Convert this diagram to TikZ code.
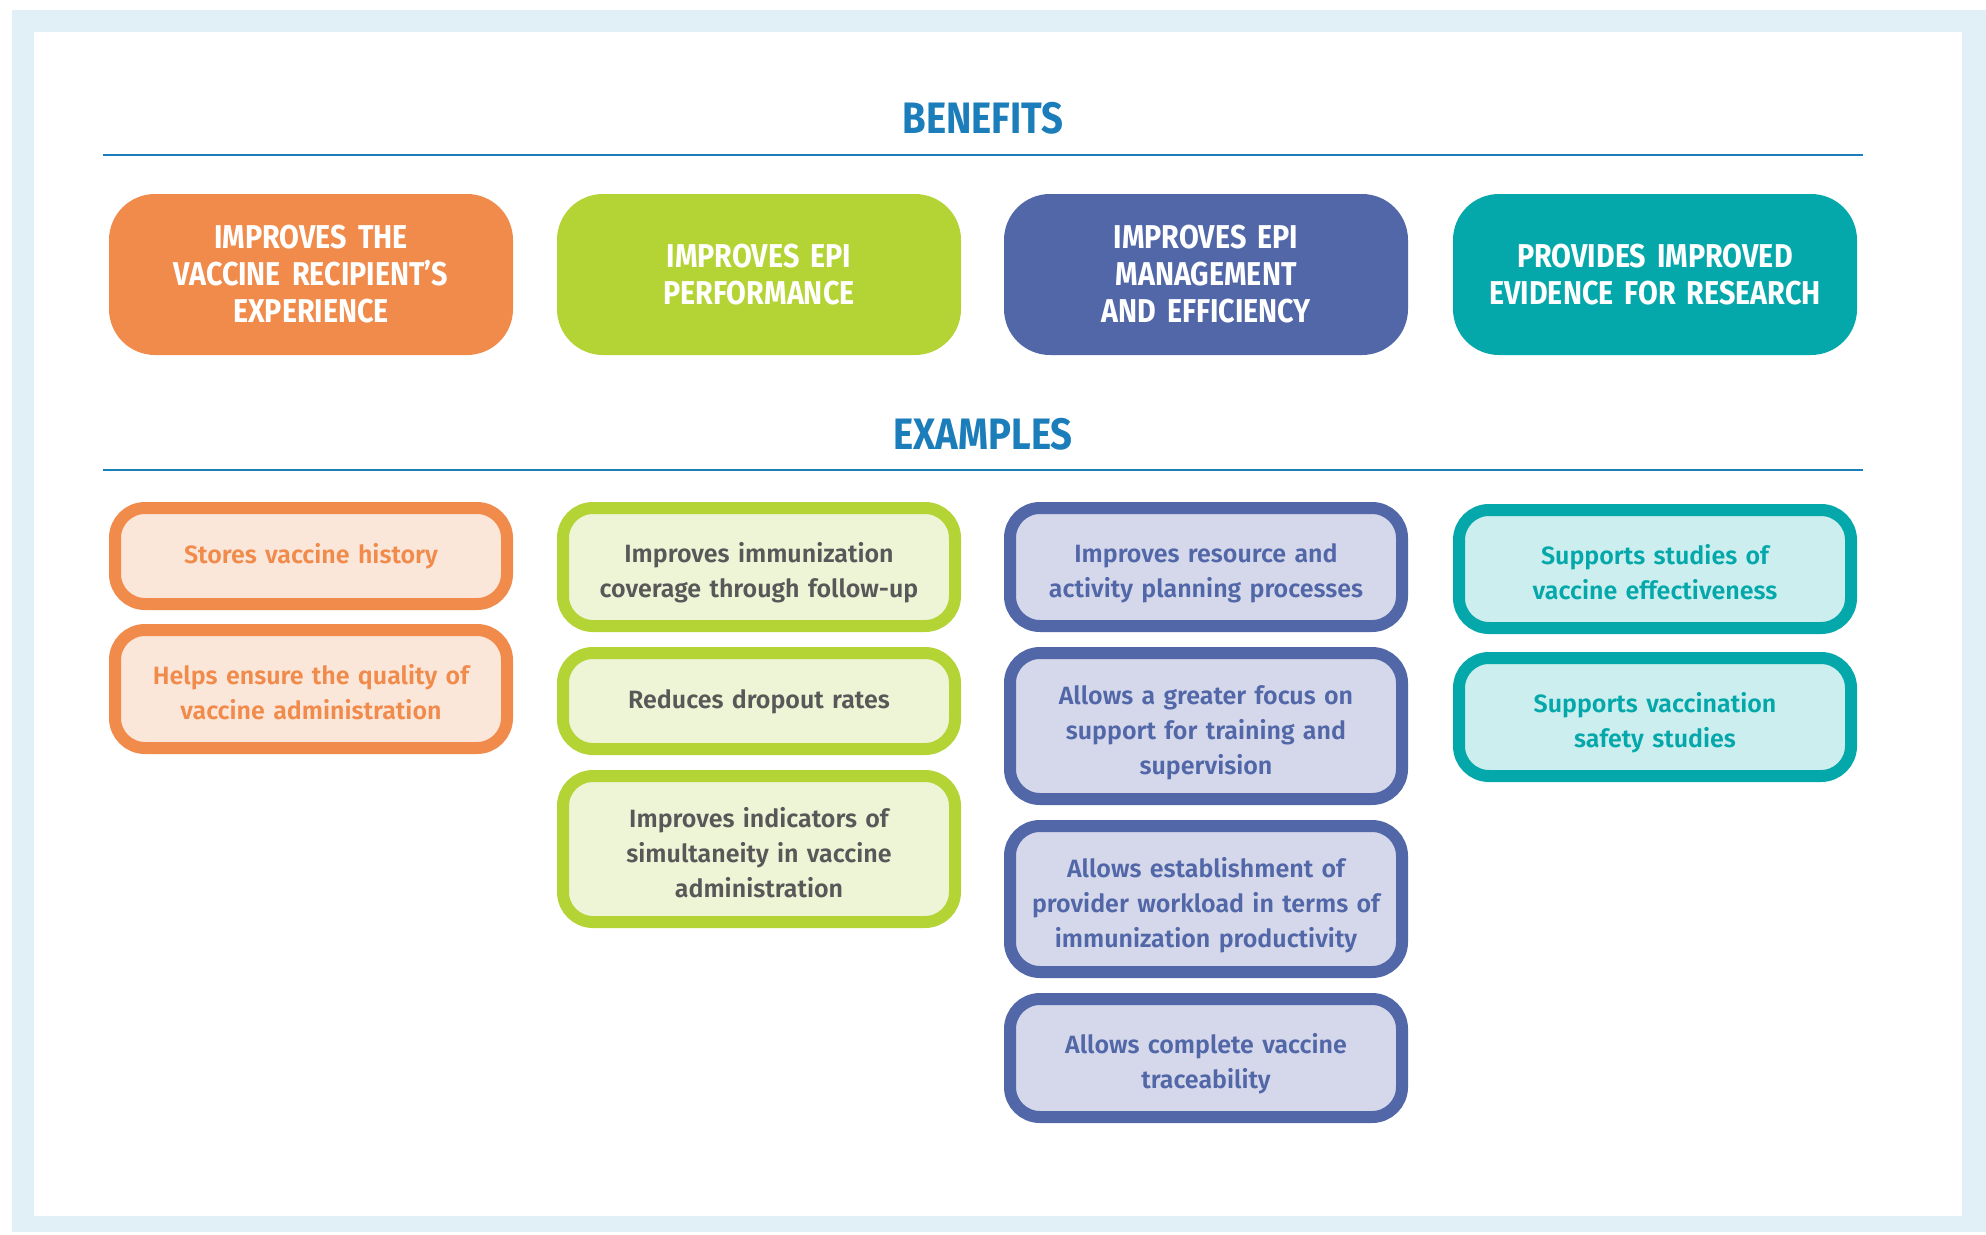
\documentclass[tikz,border=0pt]{standalone}
\usepackage{fontspec}
\setmainfont{Fira Sans}[BoldFont=* SemiBold]
\newfontfamily\headfont{Fira Sans}[FakeStretch=0.87]
\usetikzlibrary{positioning}

\definecolor{orangeC}{RGB}{240,139,75}
\definecolor{orangeL}{RGB}{251,230,218}
\definecolor{greenC}{RGB}{180,211,52}
\definecolor{greenL}{RGB}{238,244,214}
\definecolor{blueC}{RGB}{81,103,168}
\definecolor{blueL}{RGB}{213,216,234}
\definecolor{tealC}{RGB}{5,168,170}
\definecolor{tealL}{RGB}{204,238,238}
\definecolor{headBlue}{RGB}{27,125,186}
\definecolor{frameBlue}{RGB}{225,240,247}
\definecolor{grayText}{RGB}{88,88,88}

\begin{document}
\begin{tikzpicture}[x=1pt,y=-1pt]
		\tikzset{heading/.style={text=headBlue,font=\headfont\bfseries\fontsize{44}{50}\selectfont}};
		\tikzset{rule/.style={draw=headBlue,line width=2.5pt}};
		\tikzset{benefit/.style={fill=#1,rounded corners=46pt,minimum width=404pt,minimum height=161pt,
					text width=380pt,align=center,text=white,font=\headfont\bfseries\fontsize{33}{37}\selectfont}};
		\tikzset{example/.style={line width=12pt,rounded corners=30pt,minimum width=392pt,
					text width=360pt,align=center,font=\bfseries\fontsize{25}{35}\selectfont}};
		\tikzset{exorange/.style={example,draw=orangeC,fill=orangeL,text=orangeC}};
		\tikzset{exgreen/.style={example,draw=greenC,fill=greenL,text=grayText}};
		\tikzset{exblue/.style={example,draw=blueC,fill=blueL,text=blueC}};
		\tikzset{exteal/.style={example,draw=tealC,fill=tealL,text=tealC}};
		\tikzset{oneline/.style={minimum height=96pt,text height=15pt,text depth=0pt}};
		\tikzset{twoline/.style={minimum height=118pt,text height=26pt,text depth=35pt}};
		\tikzset{threeline/.style={minimum height=146pt,text height=26pt,text depth=70pt}};
		
		\useasboundingbox (0,0) rectangle (1986,1234);
		\fill[frameBlue] (12,10) rectangle (1986,1232);
		\fill[white] (34,32) rectangle (1962,1216);
		
		% benefits
		\node (benefits) at (983,118) [heading]{BENEFITS};
		\draw[rule] (103,155) -- (1863,155);
		\node (b1) at (311,274.5) [benefit=orangeC]{IMPROVES THE\\VACCINE RECIPIENT’S\\EXPERIENCE};
		\node (b2) at (759,274.5) [benefit=greenC]{IMPROVES EPI\\PERFORMANCE};
		\node (b3) at (1206,274.5) [benefit=blueC]{IMPROVES EPI\\MANAGEMENT\\AND EFFICIENCY};
		\node (b4) at (1655,274.5) [benefit=tealC]{PROVIDES IMPROVED\\EVIDENCE FOR RESEARCH};
		
		% examples
		\node (examples) at (983,434) [heading]{EXAMPLES};
		\draw[rule] (103,470) -- (1863,470);
		
		\node (e11) at (311,502) [exorange,oneline,anchor=north]{Stores vaccine history};
		\node (e12) [exorange,twoline,below=14pt of e11]{Helps ensure the quality of\\vaccine administration};
		
		\node (e21) at (759,502) [exgreen,twoline,anchor=north]{Improves immunization\\coverage through follow-up};
		\node (e22) [exgreen,oneline,below=15pt of e21]{Reduces dropout rates};
		\node (e23) [exgreen,threeline,below=15pt of e22]{Improves indicators of\\simultaneity in vaccine\\administration};
		
		\node (e31) at (1206,502) [exblue,twoline,anchor=north]{Improves resource and\\activity planning processes};
		\node (e32) [exblue,threeline,below=15pt of e31]{Allows a greater focus on\\support for training and\\supervision};
		\node (e33) [exblue,threeline,below=15pt of e32]{Allows establishment of\\provider workload in terms of\\immunization productivity};
		\node (e34) [exblue,twoline,below=15pt of e33]{Allows complete vaccine\\traceability};
		
		\node (e41) at (1655,504) [exteal,twoline,anchor=north]{Supports studies of\\vaccine effectiveness};
		\node (e42) [exteal,twoline,below=18pt of e41]{Supports vaccination\\safety studies};
\end{tikzpicture}
\end{document}
